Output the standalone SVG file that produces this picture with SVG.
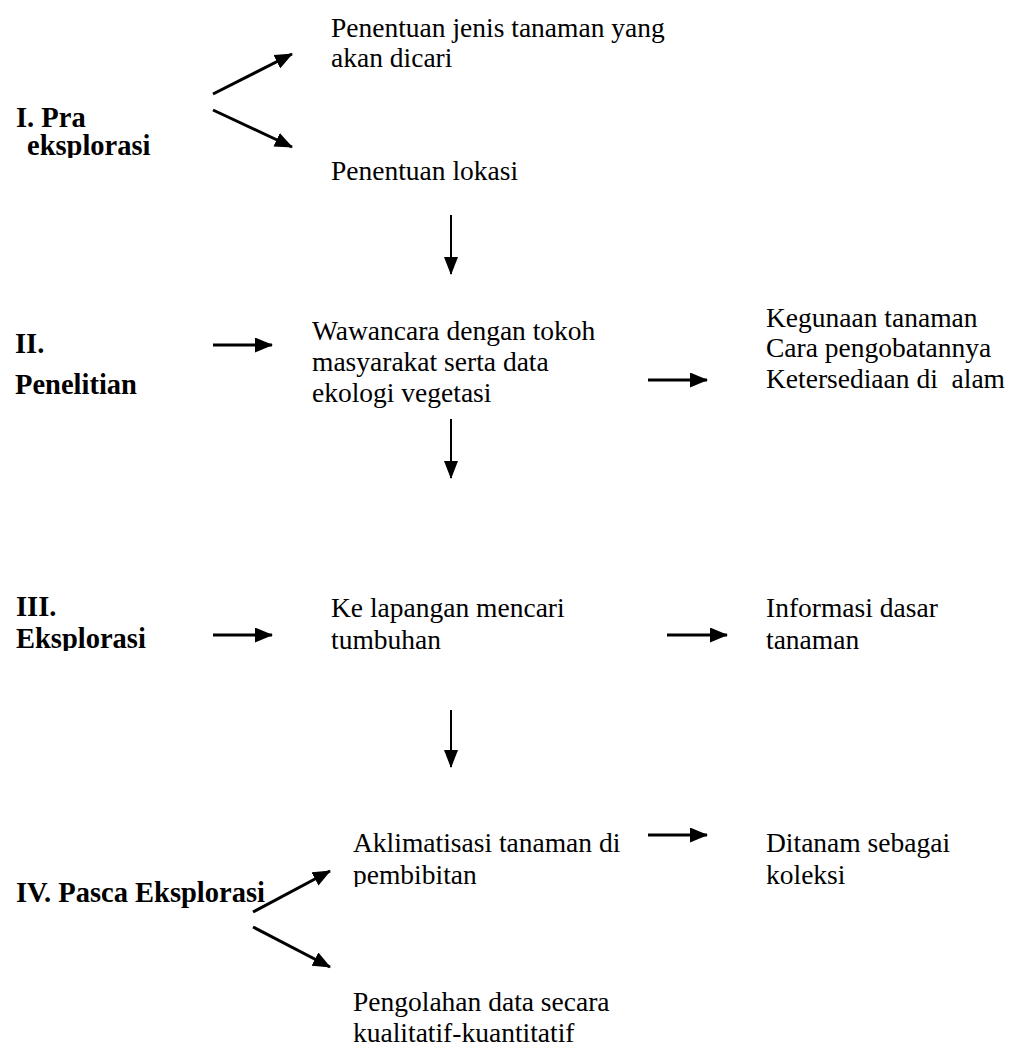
<svg xmlns="http://www.w3.org/2000/svg" width="1013" height="1051" viewBox="0 0 1013 1051">
<style>
.t{font-family:"Liberation Serif","Times New Roman",serif;font-size:27.5px;fill:#000}
.b{font-family:"Liberation Serif","Times New Roman",serif;font-size:28.5px;font-weight:bold;fill:#000}
.h{stroke:#000;stroke-width:3;fill:none}
.v{stroke:#000;stroke-width:2;fill:none}
</style>
<defs>
<marker id="ah" markerUnits="userSpaceOnUse" markerWidth="18" markerHeight="15" refX="17" refY="7.5" orient="auto">
<path d="M0,0 L18,7.5 L0,15 z" fill="#000"/>
</marker>
<marker id="av" markerUnits="userSpaceOnUse" markerWidth="18" markerHeight="14" refX="17" refY="7" orient="auto">
<path d="M0,0 L18,7 L0,14 z" fill="#000"/>
</marker>
<clipPath id="c1"><rect x="0" y="0" width="1013" height="158"/></clipPath>
<clipPath id="c3"><rect x="0" y="0" width="1013" height="651"/></clipPath>
<clipPath id="c7"><rect x="0" y="0" width="1013" height="887"/></clipPath>
</defs>
<rect width="1013" height="1051" fill="#fff"/>

<g id="connectors">
<line class="h" x1="213" y1="94" x2="292" y2="54" marker-end="url(#ah)"/>
<line class="h" x1="213" y1="110" x2="292" y2="147" marker-end="url(#ah)"/>
<line class="v" x1="451" y1="215" x2="451" y2="274" marker-end="url(#av)"/>
<line class="h" x1="213" y1="345" x2="272" y2="345" marker-end="url(#ah)"/>
<line class="h" x1="648" y1="380" x2="707" y2="380" marker-end="url(#ah)"/>
<line class="v" x1="451" y1="419" x2="451" y2="478" marker-end="url(#av)"/>
<line class="h" x1="213" y1="635" x2="272" y2="635" marker-end="url(#ah)"/>
<line class="h" x1="667" y1="635" x2="727" y2="635" marker-end="url(#ah)"/>
<line class="v" x1="451" y1="710" x2="451" y2="767" marker-end="url(#av)"/>
<line class="h" x1="648" y1="835" x2="707" y2="835" marker-end="url(#ah)"/>
<line class="h" x1="253" y1="912" x2="330" y2="871" marker-end="url(#ah)"/>
<line class="h" x1="253" y1="927" x2="330" y2="967" marker-end="url(#ah)"/>
</g>

<g id="label-pra">
<text class="b" x="16" y="127">I. Pra</text>
<text class="b" x="27" y="155" clip-path="url(#c1)">eksplorasi</text>
</g>
<g id="node-jenis">
<text class="t" x="331" y="37">Penentuan jenis tanaman yang</text>
<text class="t" x="331" y="67">akan dicari</text>
</g>
<g id="node-lokasi">
<text class="t" x="331" y="180">Penentuan lokasi</text>
</g>

<g id="label-penelitian">
<text class="b" x="15" y="353">II.</text>
<text class="b" x="15" y="394">Penelitian</text>
</g>
<g id="node-wawancara">
<text class="t" x="312" y="340">Wawancara dengan tokoh</text>
<text class="t" x="312" y="371">masyarakat serta data</text>
<text class="t" x="312" y="402">ekologi vegetasi</text>
</g>
<g id="node-kegunaan">
<text class="t" x="766" y="327">Kegunaan tanaman</text>
<text class="t" x="766" y="357">Cara pengobatannya</text>
<text class="t" x="766" y="388" xml:space="preserve">Ketersediaan di  alam</text>
</g>

<g id="label-eksplorasi">
<text class="b" x="16" y="616">III.</text>
<text class="b" x="16" y="648" clip-path="url(#c3)">Eksplorasi</text>
</g>
<g id="node-lapangan">
<text class="t" x="331" y="617">Ke lapangan mencari</text>
<text class="t" x="331" y="649" clip-path="url(#c3)">tumbuhan</text>
</g>
<g id="node-informasi">
<text class="t" x="766" y="617">Informasi dasar</text>
<text class="t" x="766" y="649" clip-path="url(#c3)">tanaman</text>
</g>

<g id="label-pasca">
<text class="b" x="16" y="902">IV. Pasca Eksplorasi</text>
</g>
<g id="node-aklimatisasi">
<text class="t" x="353" y="852">Aklimatisasi tanaman di</text>
<text class="t" x="353" y="884" clip-path="url(#c7)">pembibitan</text>
</g>
<g id="node-ditanam">
<text class="t" x="766" y="852">Ditanam sebagai</text>
<text class="t" x="766" y="884">koleksi</text>
</g>
<g id="node-pengolahan">
<text class="t" x="353" y="1011">Pengolahan data secara</text>
<text class="t" x="353" y="1042">kualitatif-kuantitatif</text>
</g>
</svg>
